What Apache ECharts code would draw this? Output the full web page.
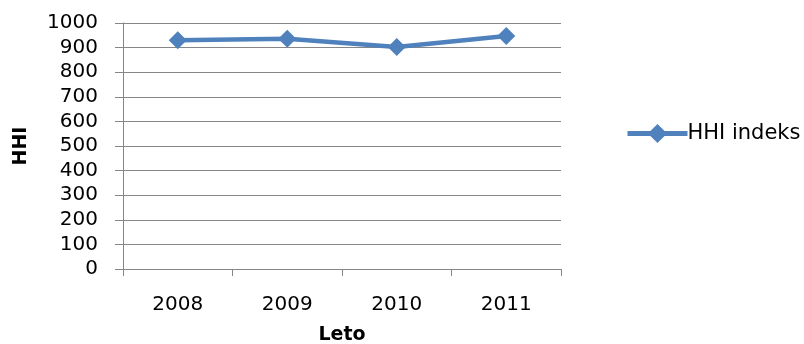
<!DOCTYPE html>
<html>
<head>
<meta charset="utf-8">
<script src="https://cdn.jsdelivr.net/npm/echarts@6/dist/echarts.min.js"></script>
<style>
  html, body { margin: 0; padding: 0; background: #fff; }
  #chart { width: 804px; height: 344px; }
</style>
</head>
<body>
<div id="chart"></div>
<script>
// HHI index by year
const years = ['2008', '2009', '2010', '2011'];
const hhiValues = [930, 936, 902, 947];
const seriesName = 'HHI indeks';

const axisGray = '#868686';
const blue = '#4F81BD';
const font = 'DejaVu Sans';

const chart = echarts.init(document.getElementById('chart'));
chart.setOption({
  animation: false,
  backgroundColor: '#ffffff',
  textStyle: { fontFamily: font, color: '#000' },
  grid: {
    left: 123, right: 243, top: 23, bottom: 75,
    containLabel: false,
    outerBoundsMode: 'none'
  },
  legend: {
    data: [seriesName],
    left: 620,
    top: 118,
    itemWidth: 60,
    itemHeight: 24,
    itemGap: 2,
    lineStyle: { width: 5, color: blue },
    itemStyle: { color: blue },
    textStyle: { fontFamily: font, fontSize: 21, color: '#000', padding: [0, 0, 0, -5] }
  },
  xAxis: {
    type: 'category',
    data: years,
    boundaryGap: true,
    name: 'Leto',
    nameLocation: 'middle',
    nameGap: 57,
    nameTextStyle: { fontFamily: font, fontSize: 19, fontWeight: 'bold', color: '#000' },
    axisLine: { lineStyle: { color: axisGray, width: 1 } },
    axisTick: { show: true, length: 7, lineStyle: { color: axisGray } },
    axisLabel: { fontFamily: font, fontSize: 20, color: '#000', margin: 26 },
    splitLine: { show: false }
  },
  yAxis: {
    type: 'value',
    min: 0,
    max: 1000,
    interval: 100,
    name: 'HHI',
    nameLocation: 'middle',
    nameRotate: 90,
    nameGap: 92,
    nameTextStyle: { fontFamily: font, fontSize: 19, fontWeight: 'bold', color: '#000' },
    axisLine: { show: true, lineStyle: { color: axisGray, width: 1 } },
    axisTick: { show: true, length: 8, lineStyle: { color: axisGray } },
    axisLabel: {
      fontFamily: font, fontSize: 20, color: '#000', margin: 25,
      formatter: v => String(v)
    },
    splitLine: { show: true, lineStyle: { color: axisGray, width: 1 } }
  },
  series: [{
    name: seriesName,
    type: 'line',
    data: hhiValues,
    symbol: 'diamond',
    symbolSize: [18, 18],
    itemStyle: { color: blue },
    lineStyle: { color: blue, width: 4.5 }
  }]
});
</script>
</body>
</html>
